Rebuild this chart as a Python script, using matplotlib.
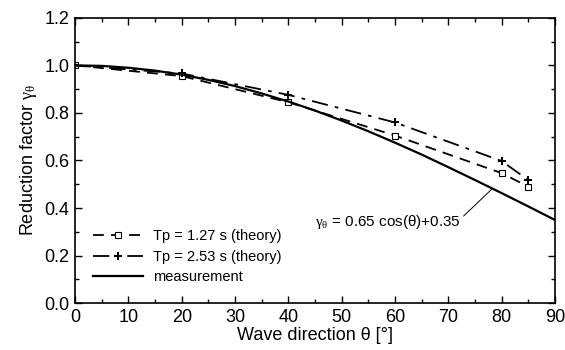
import matplotlib.pyplot as plt
from matplotlib.ticker import MultipleLocator

plt.rcParams["font.family"] = ["Liberation Sans", "DejaVu Sans"]
plt.rcParams["mathtext.fontset"] = "custom"
plt.rcParams["mathtext.rm"] = "Liberation Serif"
plt.rcParams["mathtext.it"] = "Liberation Serif"

# theory points
theta_theory = [0, 20, 40, 60, 80, 85]
tp127 = [1.0, 0.955, 0.845, 0.705, 0.547, 0.49]
tp253 = [1.0, 0.966, 0.876, 0.760, 0.598, 0.518]

theta_meas = [0, 5, 10, 15, 20, 25, 30, 35, 40, 45, 50, 55, 60, 65, 70, 75, 80, 85, 90]
meas = [1.0, 0.998, 0.990, 0.978, 0.961, 0.939, 0.913, 0.882, 0.848, 0.810,
        0.768, 0.723, 0.675, 0.625, 0.572, 0.518, 0.463, 0.407, 0.35]

fig = plt.figure(figsize=(5.65, 3.5), dpi=100)
ax = fig.add_axes([0.133, 0.134, 0.849, 0.815])

ax.plot(theta_theory, tp127, color="black", lw=1.3, ls=(0, (6, 4)),
        marker="s", ms=4.5, mfc="white", mec="black", mew=0.8,
        label="Tp = 1.27 s (theory)")
ax.plot(theta_theory, tp253, color="black", lw=1.3, ls=(0, (9, 4, 2, 4)),
        marker="+", ms=6, mew=1.4, label="Tp = 2.53 s (theory)")
ax.plot(theta_meas, meas, color="black", lw=1.6, label="measurement")

ax.annotate(r"$\gamma_\theta$ = 0.65 cos(θ)+0.35", xy=(78.2, 0.48),
            xytext=(45, 0.34), fontsize=11, ha="left", va="center",
            arrowprops=dict(arrowstyle="-", color="black", lw=0.7,
                            shrinkA=0, shrinkB=0, relpos=(1.0, 0.7)))

ax.set_xlim(0, 90)
ax.set_ylim(0, 1.2)
ax.xaxis.set_major_locator(MultipleLocator(10))
ax.xaxis.set_minor_locator(MultipleLocator(5))
ax.yaxis.set_major_locator(MultipleLocator(0.2))
ax.yaxis.set_minor_locator(MultipleLocator(0.1))
ax.yaxis.set_major_formatter(plt.FuncFormatter(lambda v, _: f"{v:.1f}"))
ax.tick_params(which="both", direction="in", top=True, right=True, labelsize=13)
ax.tick_params(which="major", length=5, width=1, pad=4)
ax.tick_params(which="minor", length=3, width=1)
for s in ax.spines.values():
    s.set_linewidth(1.2)

ax.set_xlabel("Wave direction θ [°]", fontsize=13, labelpad=1)
ax.set_ylabel(r"Reduction factor $\gamma_\theta$", fontsize=13, labelpad=4)

ax.legend(loc="lower left", bbox_to_anchor=(0.01, 0.02), frameon=False,
          fontsize=10.5, handlelength=3.4, handletextpad=0.7, labelspacing=0.45)

fig.savefig("out.png", dpi=100)
